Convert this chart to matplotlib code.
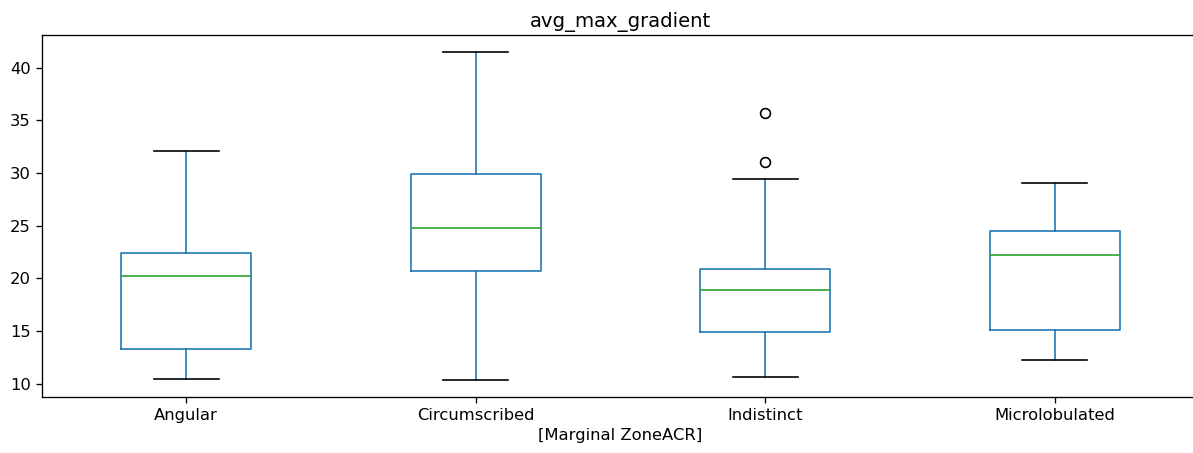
import matplotlib.pyplot as plt

# summary statistics per margin category
categories = ['Angular', 'Circumscribed', 'Indistinct', 'Microlobulated']
whislo = [10.48, 10.31, 10.63, 12.21]
q1 = [13.33, 20.70, 14.94, 15.10]
med = [20.20, 24.79, 18.90, 22.26]
q3 = [22.39, 29.90, 20.84, 24.48]
whishi = [32.11, 41.52, 29.42, 29.10]
fliers = [[], [], [35.67, 31.07], []]

stats = []
for i, name in enumerate(categories):
    stats.append(dict(label=name, whislo=whislo[i], q1=q1[i], med=med[i],
                      q3=q3[i], whishi=whishi[i], fliers=fliers[i]))

s = 1.18  # everything drawn a bit larger than default
plt.rcParams.update({
    'font.size': 10 * s,
    'axes.linewidth': 0.8 * s,
    'xtick.major.size': 3.5 * s,
    'ytick.major.size': 3.5 * s,
    'xtick.major.width': 0.8 * s,
    'ytick.major.width': 0.8 * s,
    'lines.linewidth': 1.5 * s,
})

fig = plt.figure(figsize=(11.93, 4.53), dpi=100)
# axes runs slightly past the right edge of the canvas
ax = fig.add_axes([41.5 / 1193, 1 - 397 / 453, 1158 / 1193, 362 / 453])

ax.bxp(stats, widths=0.45,
       boxprops=dict(color='C0', linewidth=1.0 * s),
       whiskerprops=dict(color='C0', linewidth=1.0 * s),
       medianprops=dict(color='C2', linewidth=1.0 * s),
       capprops=dict(color='black', linewidth=1.0 * s),
       flierprops=dict(marker='o', markerfacecolor='none', markersize=6 * s,
                       markeredgecolor='black', markeredgewidth=1.0 * s))

ax.set_xlim(0.5, 4.5)
ax.set_ylim(8.73, 43.11)
ax.spines['right'].set_visible(False)
ax.set_title('avg_max_gradient', fontsize=12 * s)
ax.set_xlabel('[Marginal ZoneACR]', fontsize=10 * s)

fig.savefig('out.png')
